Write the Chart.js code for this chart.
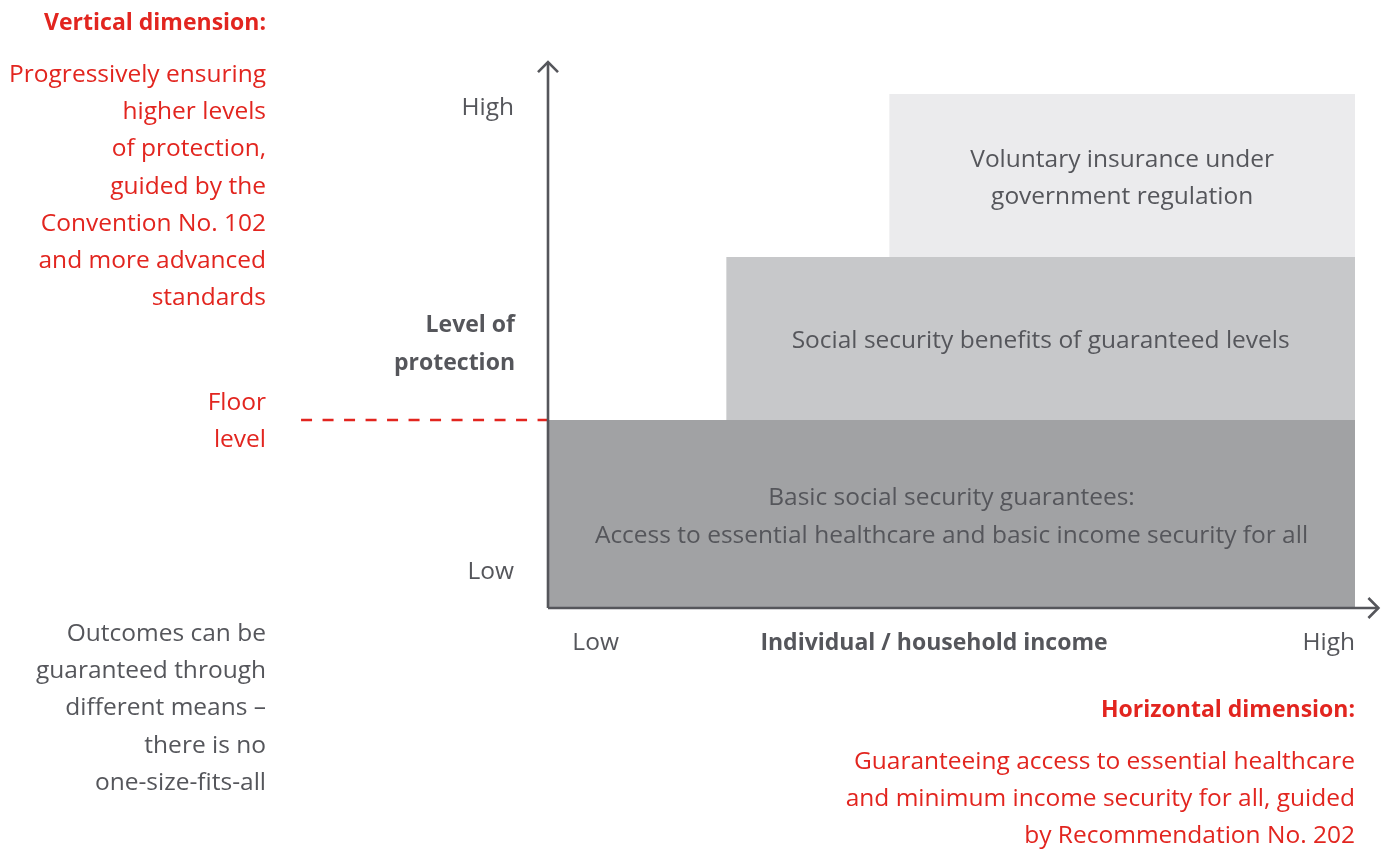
<!DOCTYPE html>
<html>
<head>
<meta charset="utf-8">
<script src="https://cdn.jsdelivr.net/npm/chart.js@4.4.1/dist/chart.umd.min.js"></script>
<style>
  html, body { margin: 0; padding: 0; background: #ffffff; }
  #wrap { position: relative; width: 1392px; height: 849px; }
</style>
</head>
<body>
<div id="wrap"><canvas id="stairChart"></canvas></div>
<script>
// blocks of the staircase, in axis units (x: income 0-100, y: protection 0-100)
const blockLabels = [
  ['Basic social security guarantees:', 'Access to essential healthcare and basic income security for all'],
  ['Social security benefits of guaranteed levels'],
  ['Voluntary insurance under', 'government regulation']
];
const blockXStart = [0, 22.1, 42.3];
const blockXEnd   = [100, 100, 100];
const blockYStart = [0, 36.6, 68.3];
const blockYEnd   = [36.6, 68.3, 100];
const blockColors = ['#a1a2a4', '#c7c8ca', '#ebebed'];

const floorLevel = 36.6;
const floorLineStart = -30.6;

const yTickValues = [7.4, 97.7];
const yTickLabels = ['Low', 'High'];
const xTickValues = [5.9, 96.7];
const xTickLabels = ['Low', 'High'];

const yAxisTitle = ['Level of', 'protection'];
const xAxisTitle = 'Individual / household income';

const axisEndX = 102.9;
const axisEndY = 106.2;

const GREY = '#55565b';
const RED  = '#e2251f';
const FONT = '"Open Sans", sans-serif';

function rectPoints(i) {
  return [
    { x: blockXStart[i], y: blockYStart[i] },
    { x: blockXEnd[i],   y: blockYStart[i] },
    { x: blockXEnd[i],   y: blockYEnd[i] },
    { x: blockXStart[i], y: blockYEnd[i] },
    { x: blockXStart[i], y: blockYStart[i] }
  ];
}

const blockSets = blockLabels.map((lbl, i) => ({
  label: lbl.join(' '),
  data: rectPoints(i),
  showLine: true,
  fill: 'shape',
  backgroundColor: blockColors[i],
  borderColor: blockColors[i],
  borderWidth: 0,
  pointRadius: 0,
  tension: 0,
  order: 3
}));

const lineSets = [
  { // floor level
    data: [{ x: floorLineStart, y: floorLevel }, { x: 0, y: floorLevel }],
    showLine: true, borderColor: RED, borderWidth: 2.5, borderDash: [11, 10.5],
    pointRadius: 0, clip: false, fill: false, order: 2
  },
  { // vertical axis
    data: [{ x: 0, y: 0 }, { x: 0, y: axisEndY }],
    showLine: true, borderColor: GREY, borderWidth: 2.6, pointRadius: 0, clip: false, fill: false, order: 1
  },
  { // horizontal axis
    data: [{ x: 0, y: 0 }, { x: axisEndX, y: 0 }],
    showLine: true, borderColor: GREY, borderWidth: 2.6, pointRadius: 0, clip: false, fill: false, order: 1
  }
];

function writeLines(ctx, lines, x, y, step, align, font, color) {
  ctx.font = font;
  ctx.fillStyle = color;
  ctx.textAlign = align;
  ctx.textBaseline = 'middle';
  lines.forEach((t, k) => ctx.fillText(t, x, y + 2 + k * step));
}

const annotations = {
  id: 'annotations',
  afterDatasetsDraw(chart) {
    const { ctx, scales: { x, y } } = chart;
    const reg = '24.5px ' + FONT;
    const bold = 'bold 23px ' + FONT;
    ctx.save();

    // arrow heads
    ctx.strokeStyle = GREY;
    ctx.lineWidth = 2.6;
    ctx.lineCap = 'butt';
    const ax = x.getPixelForValue(0), ay = y.getPixelForValue(axisEndY);
    ctx.beginPath();
    ctx.moveTo(ax - 10, ay + 10); ctx.lineTo(ax, ay); ctx.lineTo(ax + 10, ay + 10);
    ctx.stroke();
    const bx = x.getPixelForValue(axisEndX), by = y.getPixelForValue(0);
    ctx.beginPath();
    ctx.moveTo(bx - 10, by - 10); ctx.lineTo(bx, by); ctx.lineTo(bx - 10, by + 10);
    ctx.stroke();

    // text inside blocks
    blockLabels.forEach((lines, i) => {
      const cx = (x.getPixelForValue(blockXStart[i]) + x.getPixelForValue(blockXEnd[i])) / 2;
      const cy = (y.getPixelForValue(blockYStart[i]) + y.getPixelForValue(blockYEnd[i])) / 2;
      const step = 37.5;
      writeLines(ctx, lines, cx, cy - (lines.length - 1) * step / 2 + 1, step, 'center', reg, GREY);
    });

    // tick labels
    const left = x.getPixelForValue(0), bottom = y.getPixelForValue(0);
    yTickValues.forEach((v, i) => writeLines(ctx, [yTickLabels[i]], left - 34, y.getPixelForValue(v), 0, 'right', reg, GREY));
    writeLines(ctx, [xTickLabels[0]], x.getPixelForValue(xTickValues[0]), bottom + 33, 0, 'center', reg, GREY);
    writeLines(ctx, [xTickLabels[1]], x.getPixelForValue(blockXEnd[0]), bottom + 33, 0, 'right', reg, GREY);

    // axis titles
    writeLines(ctx, yAxisTitle, left - 33, 323, 38, 'right', bold, GREY);
    writeLines(ctx, [xAxisTitle], 934, bottom + 33, 0, 'center', bold, GREY);

    // side notes
    writeLines(ctx, ['Vertical dimension:'], 266, 21, 0, 'right', bold, RED);
    writeLines(ctx, ['Progressively ensuring', 'higher levels', 'of protection,', 'guided by the',
      'Convention No. 102', 'and more advanced', 'standards'], 266, 73, 37.2, 'right', reg, RED);
    writeLines(ctx, ['Floor', 'level'], 266, 401, 37.2, 'right', reg, RED);
    writeLines(ctx, ['Outcomes can be', 'guaranteed through', 'different means \u2013', 'there is no',
      'one-size-fits-all'], 266, 632, 37.2, 'right', reg, GREY);
    writeLines(ctx, ['Horizontal dimension:'], 1355, 708, 0, 'right', bold, RED);
    writeLines(ctx, ['Guaranteeing access to essential healthcare', 'and minimum income security for all, guided',
      'by Recommendation No. 202'], 1355, 760, 37.2, 'right', reg, RED);

    ctx.restore();
  }
};

new Chart(document.getElementById('stairChart'), {
  type: 'scatter',
  data: { datasets: [...lineSets, ...blockSets] },
  options: {
    responsive: true,
    maintainAspectRatio: false,
    animation: false,
    layout: { padding: { left: 548, right: 37, top: 94, bottom: 241 } },
    plugins: { legend: { display: false }, tooltip: { enabled: false } },
    scales: {
      x: { type: 'linear', min: 0, max: 100, display: false },
      y: { type: 'linear', min: 0, max: 100, display: false }
    }
  },
  plugins: [annotations]
});
</script>
</body>
</html>
